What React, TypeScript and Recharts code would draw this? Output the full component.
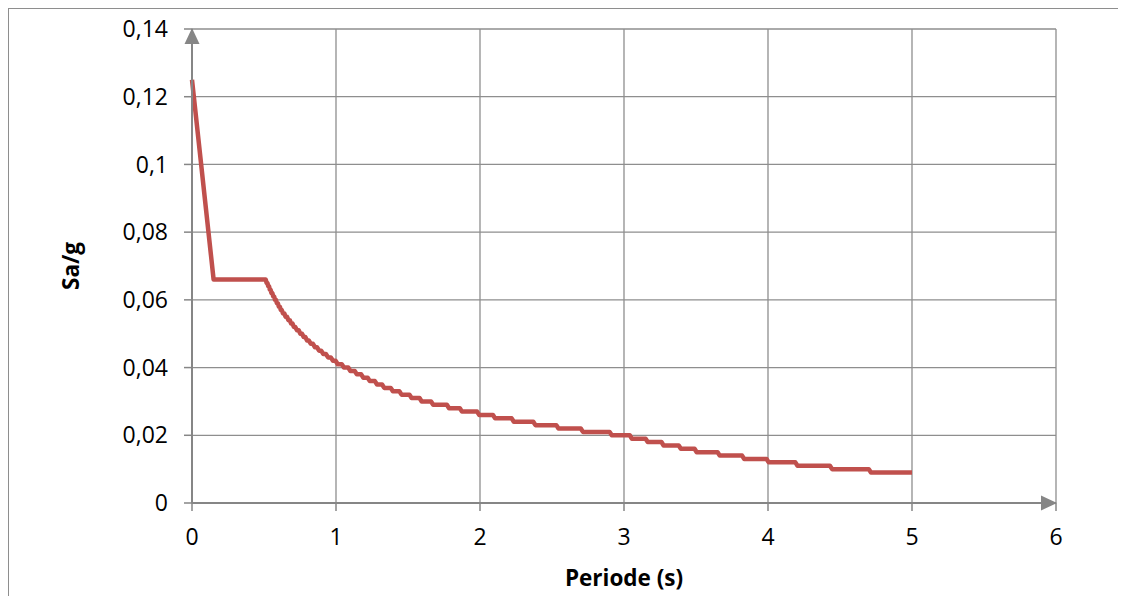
import React from "react";
import { LineChart, Line, XAxis, YAxis, CartesianGrid } from "recharts";

// ramp from T=0 down to the plateau
const headPeriod = [0, 0.15];
const headSa = [0.125, 0.066];

// stepped descending branch: level value and the period where it ends
const stepSa = [
  0.066, 0.065, 0.064, 0.063, 0.062, 0.061, 0.06, 0.059, 0.058, 0.057,
  0.056, 0.055, 0.054, 0.053, 0.052, 0.051, 0.05, 0.049, 0.048, 0.047,
  0.046, 0.045, 0.044, 0.043, 0.042, 0.041, 0.04, 0.039, 0.038, 0.037,
  0.036, 0.035, 0.034, 0.033, 0.032, 0.031, 0.03, 0.029, 0.028, 0.027,
  0.026, 0.025, 0.024, 0.023, 0.022, 0.021, 0.02, 0.019, 0.018, 0.017,
  0.016, 0.015, 0.014, 0.013, 0.012, 0.011, 0.01, 0.009,
];
const stepEnd = [
  0.512, 0.524, 0.535, 0.546, 0.558, 0.57, 0.583, 0.596, 0.61, 0.623,
  0.641, 0.66, 0.679, 0.698, 0.717, 0.741, 0.764, 0.787, 0.811, 0.84,
  0.868, 0.897, 0.93, 0.964, 0.997, 1.04, 1.085, 1.13, 1.175, 1.22,
  1.27, 1.32, 1.38, 1.44, 1.51, 1.58, 1.66, 1.77, 1.86, 1.98,
  2.09, 2.22, 2.37, 2.53, 2.7, 2.9, 3.04, 3.15, 3.26, 3.38,
  3.49, 3.65, 3.82, 3.99, 4.19, 4.43, 4.7, 5.0,
];

const xTicks = [0, 1, 2, 3, 4, 5, 6];
const yTicks = [0, 0.02, 0.04, 0.06, 0.08, 0.1, 0.12, 0.14];
const yTickLabels = ["0", "0,02", "0,04", "0,06", "0,08", "0,1", "0,12", "0,14"];

const data: { T: number; sa: number }[] = headPeriod.map((t, i) => ({ T: t, sa: headSa[i] }));
let start = headPeriod[headPeriod.length - 1];
stepSa.forEach((v, i) => {
  const end = stepEnd[i];
  if (i > 0) data.push({ T: start + Math.min(0.015, (end - start) / 2), sa: v });
  data.push({ T: end, sa: v });
  start = end;
});

const FONT = "'Open Sans', Lato, sans-serif";
const AXIS = "#868686";
const GRID = "#8e8e8e";

export default function App() {
  return (
    <div
      style={{
        width: 1118,
        height: 588,
        boxSizing: "border-box",
        borderTop: `1px solid ${GRID}`,
        borderLeft: `1px solid ${GRID}`,
        overflow: "hidden",
        fontFamily: FONT,
      }}
    >
      <svg width={0} height={0} style={{ position: "absolute" }}>
        <defs>
          <marker
            id="axisArrow"
            markerUnits="userSpaceOnUse"
            markerWidth={16}
            markerHeight={16}
            viewBox="0 0 16 16"
            refX={15}
            refY={8}
            orient="auto-start-reverse"
          >
            <path d="M0,0.5 L16,8 L0,15.5 z" fill={AXIS} />
          </marker>
        </defs>
      </svg>
      <LineChart
        width={1117}
        height={587}
        data={data}
        margin={{ top: 20, right: 70, left: 123, bottom: 63 }}
      >
        <CartesianGrid stroke={GRID} strokeWidth={1.3} />
        <XAxis
          dataKey="T"
          type="number"
          domain={[0, 6]}
          ticks={xTicks}
          height={30}
          tickSize={8}
          tickMargin={18}
          stroke={AXIS}
          axisLine={{ stroke: AXIS, strokeWidth: 2, markerEnd: "url(#axisArrow)" }}
          tickLine={{ stroke: AXIS, strokeWidth: 1.5 }}
          tick={{ fill: "#000", fontSize: 23, fontFamily: FONT }}
          label={{
            content: (props: any) => {
              const vb = props.viewBox;
              return (
                <text
                  x={vb.x + vb.width / 2}
                  y={vb.y + 83}
                  textAnchor="middle"
                  fontSize={22.5}
                  fontWeight="bold"
                  fontFamily={FONT}
                  fill="#000"
                >
                  Periode (s)
                </text>
              );
            },
          }}
        />
        <YAxis
          type="number"
          domain={[0, 0.14]}
          ticks={yTicks}
          width={60}
          tickSize={8}
          tickMargin={16}
          stroke={AXIS}
          axisLine={{ stroke: AXIS, strokeWidth: 2, markerStart: "url(#axisArrow)" }}
          tickLine={{ stroke: AXIS, strokeWidth: 1.5 }}
          tick={{ fill: "#000", fontSize: 23, fontFamily: FONT }}
          tickFormatter={(v: number) => yTickLabels[yTicks.indexOf(v)] ?? String(v)}
          label={{
            content: (props: any) => {
              const vb = props.viewBox;
              const cx = vb.x - 62;
              const cy = vb.y + vb.height / 2;
              return (
                <text
                  x={cx}
                  y={cy}
                  transform={`rotate(-90, ${cx}, ${cy})`}
                  textAnchor="middle"
                  dominantBaseline="central"
                  fontSize={22.5}
                  fontWeight="bold"
                  fontFamily={FONT}
                  fill="#000"
                >
                  Sa/g
                </text>
              );
            },
          }}
        />
        <Line
          type="linear"
          dataKey="sa"
          stroke="#C0504D"
          strokeWidth={4.5}
          strokeLinejoin="round"
          dot={false}
          activeDot={false}
          isAnimationActive={false}
        />
      </LineChart>
    </div>
  );
}
